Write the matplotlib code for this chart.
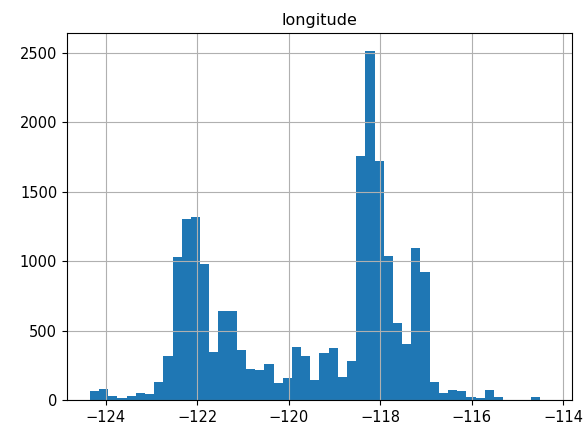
import matplotlib as mpl
import matplotlib.pyplot as plt
import numpy as np

mpl.rcParams["font.size"] = 10.5

# histogram of longitude, 50 equal bins between the data min and max
lon_min, lon_max = -124.35, -114.31
n_bins = 50
counts = [
  62, 77, 26, 17, 29, 53, 43, 132, 319, 1027,
  1305, 1320, 977, 343, 643, 643, 362, 223, 214, 259,
  121, 156, 384, 317, 144, 341, 372, 168, 283, 1759,
  2515, 1723, 1037, 552, 401, 1092, 924, 132, 53, 72,
  62, 24, 17, 74, 24, 3, 0, 1, 24, 3,
]

edges = np.linspace(lon_min, lon_max, n_bins + 1)

fig = plt.figure(figsize=(5.86, 4.33), dpi=100)
ax = fig.add_axes([0.1143, 0.0762, 0.8617, 0.8468])

ax.hist(edges[:-1], bins=edges, weights=counts, color="#1f77b4")
ax.grid(True)
ax.set_title("longitude", fontsize=11.5)

fig.savefig("out.png", dpi=100)
